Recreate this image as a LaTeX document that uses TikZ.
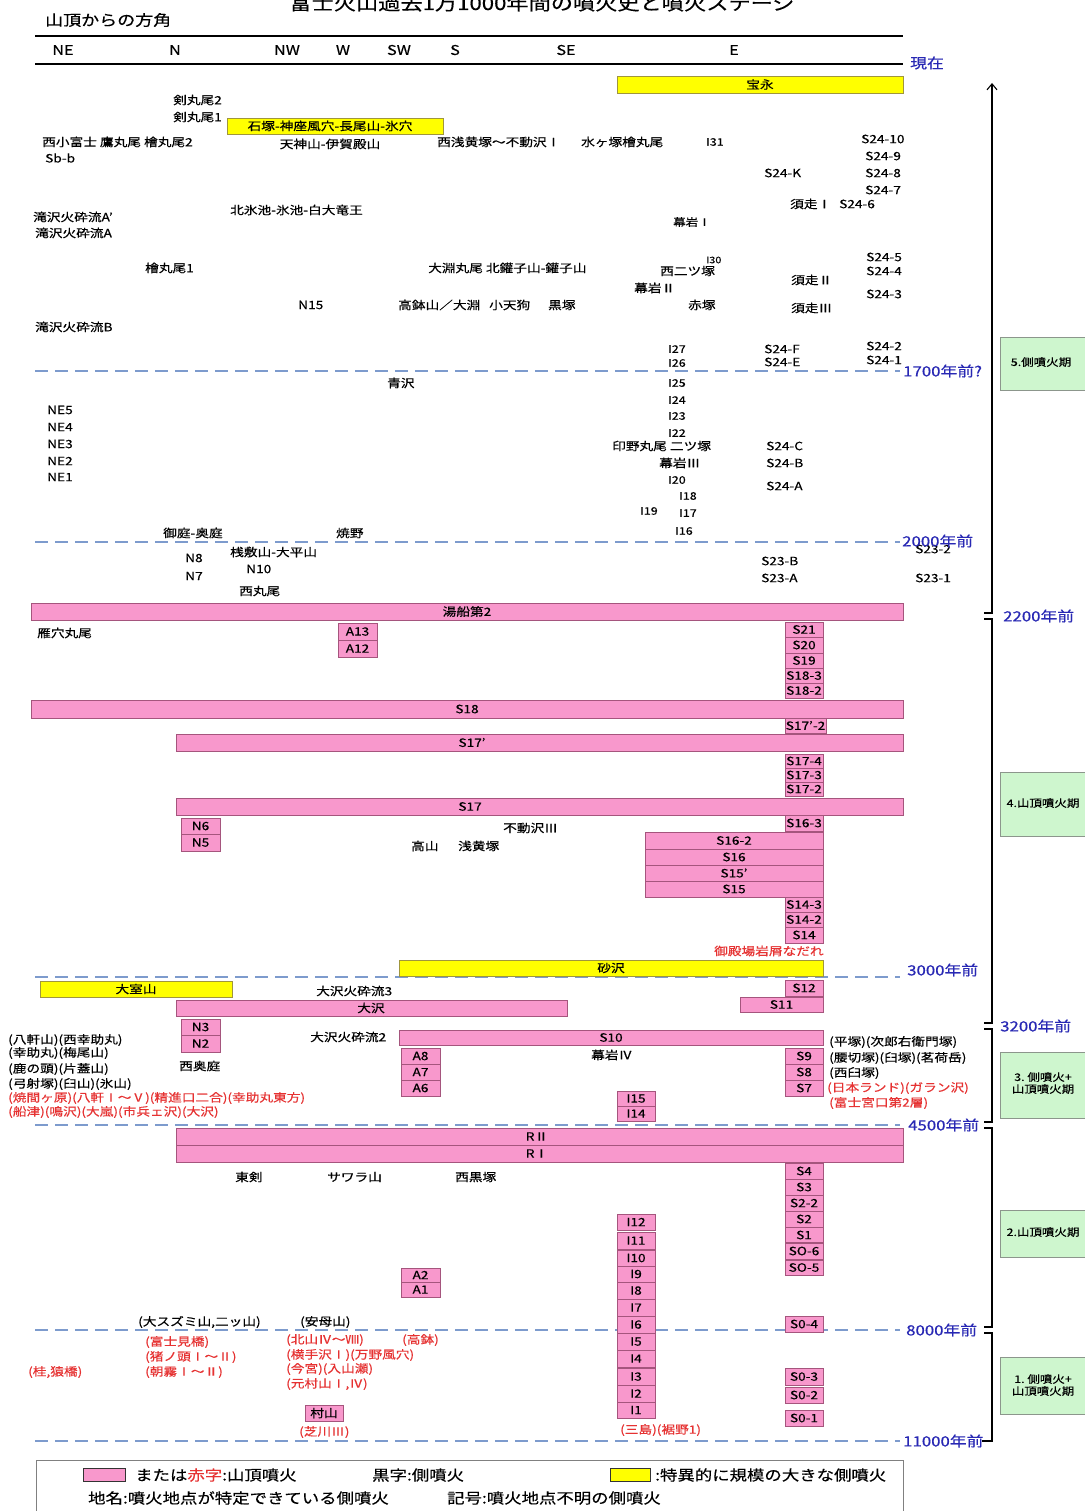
\documentclass[tikz,border=0pt]{standalone}
\usepackage{fontspec}
\setmainfont[FakeStretch=1.2,FakeBold=0.4]{Noto Sans CJK JP}
\usetikzlibrary{arrows.meta}
\definecolor{pkf}{RGB}{248,152,204}
\definecolor{pkd}{RGB}{165,85,125}
\definecolor{ywf}{RGB}{255,255,0}
\definecolor{ywd}{RGB}{160,150,60}
\definecolor{grf}{RGB}{206,246,206}
\definecolor{grd}{RGB}{140,150,140}
\definecolor{dashc}{RGB}{125,155,205}
\definecolor{yblue}{RGB}{40,40,180}
\definecolor{redc}{RGB}{230,50,50}
\newcounter{nid}
\newcommand\lbx[4][]{\stepcounter{nid}\node[lab,anchor=west,#1] (t\arabic{nid}) at (#2,#3) {#4};}
\newcommand\lbc[4][]{\stepcounter{nid}\node[lab,#1] (t\arabic{nid}) at (#2,#3) {#4};}
\newcommand\pbar[6]{\stepcounter{nid}\draw[pk] (#1,#2) rectangle (#3,#4); \node[lab] (p\arabic{nid}) at ({#5},{(#2+#4)/2}) {#6};}
\newcommand\ybar[6]{\stepcounter{nid}\draw[yw] (#1,#2) rectangle (#3,#4); \node[lab] (y\arabic{nid}) at ({#5},{(#2+#4)/2}) {#6};}
\newcommand\pcell[5]{\pbar{#1}{#2}{#3}{#4}{(#1+#3)/2}{#5}}
\newcommand\dline[1]{\draw[dl] (35,#1) -- (900,#1);}
\newcommand\yrs[3]{\stepcounter{nid}\node[yr] (yr\arabic{nid}) at (#1,#2) {#3};}
\begin{document}
\begin{tikzpicture}[x=1pt,y=-1pt,
  lab/.style={inner sep=0pt,font=\fontsize{11.4}{13}\selectfont},
  pk/.style={draw=pkd,fill=pkf,line width=0.8pt},
  yw/.style={draw=ywd,fill=ywf,line width=0.8pt},
  dl/.style={draw=dashc,dash pattern=on 13pt off 7pt,line width=1.3pt},
  yr/.style={inner sep=0pt,anchor=west,text=yblue,font=\fontsize{14}{16}\selectfont},
  rd/.style={text=redc},
  sm/.style={font=\fontsize{10.4}{12}\selectfont},
  stage/.style={draw=grd,fill=grf,line width=0.8pt},
  axis/.style={line width=1.1pt}]
\fill[white] (0,0) rectangle (1084,1511);
\useasboundingbox (0,0) rectangle (1084,1511);

% title and header
\node[inner sep=0pt,font=\fontsize{18.5}{22}\selectfont] (title) at (542,3) {富士火山過去1万1000年間の噴火史と噴火ステージ};
\node[inner sep=0pt,anchor=west,font=\fontsize{15}{18}\selectfont] (hdr) at (45,20) {山頂からの方角};
\draw[line width=1.2pt] (35,36) -- (903,36);
\draw[line width=1.2pt] (35,64) -- (903,64);
\foreach \x/\d in {63/NE,175/N,287/NW,343/W,399/SW,455/S,566/SE,734/E}
  \node[inner sep=0pt,font=\fontsize{13.5}{15}\selectfont] (dir\d) at (\x,50) {\d};
\yrs{910}{63}{現在}

% dashed time lines
\dline{371}\dline{542}\dline{977}\dline{1125}\dline{1330}\dline{1441}
\yrs{903}{371}{1700年前?}
\lbx{915}{549}{S23-2}
\yrs{902}{541}{2000年前}
\yrs{907}{970}{3000年前}
\yrs{908}{1125}{4500年前}
\yrs{906}{1330}{8000年前}
\yrs{903}{1441}{11000年前}

% axis with stage brackets
\coordinate (ax0) at (992,83);
\coordinate (b1) at (992,613);
\draw[axis,-{Straight Barb[length=6pt,width=10pt]}] (984,613) -- (b1) -- (ax0);
\draw[axis] (984,619) -- (992,619) -- (992,1023) -- (984,1023);
\draw[axis] (984,1029) -- (992,1029) -- (992,1122) -- (984,1122);
\draw[axis] (984,1128) -- (992,1128) -- (992,1327) -- (984,1327);
\draw[axis] (984,1333) -- (992,1333) -- (992,1441) -- (982,1441);
\node[yr] (y2200) at (1003,616) {2200年前};
\node[yr] (y3200) at (1000,1026) {3200年前};

% stage boxes
\draw[stage] (1000,337) rectangle (1092,390);
\node[lab,sm] (st5) at (1041,362) {5.側噴火期};
\draw[stage] (1000,772) rectangle (1092,836);
\node[lab,sm] (st4) at (1043,803) {4.山頂噴火期};
\draw[stage] (1000,1052) rectangle (1092,1118);
\node[lab,sm,align=center] (st3) at (1043,1083) {3.\ 側噴火+\\山頂噴火期};
\draw[stage] (1000,1210) rectangle (1092,1257);
\node[lab,sm] (st2) at (1043,1232) {2.山頂噴火期};
\draw[stage] (1000,1357) rectangle (1092,1414);
\node[lab,sm,align=center] (st1) at (1043,1385) {1.\ 側噴火+\\山頂噴火期};

% ---- stage 5 area
\ybar{617}{76}{903}{93}{760}{宝永}
\lbx{173}{100}{剣丸尾2}
\lbx{173}{117}{剣丸尾1}
\ybar{227}{118}{443}{134}{330}{石塚-神座風穴-長尾山-氷穴}
\lbx{42}{142}{西小富士 鷹丸尾 檜丸尾2}
\lbx{45}{158}{Sb-b}
\lbc{330}{144}{天神山-伊賀殿山}
\lbx{437}{142}{西浅黄塚～不動沢Ⅰ}
\lbx{581}{142}{水ヶ塚檜丸尾}
\lbx[sm]{706}{142}{I31}
\lbx{861}{139}{S24-10}
\lbx{865}{156}{S24-9}
\lbx{764}{173}{S24-K}
\lbx{865}{173}{S24-8}
\lbx{865}{190}{S24-7}
\lbx{790}{204}{須走Ⅰ}
\lbx{839}{204}{S24-6}
\lbx{230}{210}{北氷池-氷池-白大竜王}
\lbx[sm]{673}{222}{幕岩Ⅰ}
\lbx{33}{217}{滝沢火砕流A'}
\lbx{35}{233}{滝沢火砕流A}
\lbx{145}{268}{檜丸尾1}
\lbx{428}{268}{大淵丸尾 北鑵子山-鑵子山}
\lbx{660}{271}{西二ツ塚}
\lbx[font=\fontsize{9}{10}\selectfont]{706}{260}{I30}
\lbx{634}{288}{幕岩Ⅱ}
\lbx{791}{280}{須走Ⅱ}
\lbx{866}{257}{S24-5}
\lbx{866}{271}{S24-4}
\lbx{866}{294}{S24-3}
\lbx{298}{305}{N15}
\lbx{398}{305}{高鉢山／大淵}
\lbx{489}{305}{小天狗}
\lbx{548}{305}{黒塚}
\lbx{688}{305}{赤塚}
\lbx{791}{308}{須走Ⅲ}
\lbx{35}{327}{滝沢火砕流B}
\lbx[sm]{668}{349}{I27}
\lbx[sm]{668}{363}{I26}
\lbx{764}{349}{S24-F}
\lbx{764}{362}{S24-E}
\lbx{866}{346}{S24-2}
\lbx{866}{360}{S24-1}
\lbx{387}{383}{青沢}
\lbx[sm]{668}{383}{I25}
\lbx[sm]{668}{400}{I24}
\lbx[sm]{668}{416}{I23}
\lbx[sm]{668}{433}{I22}
\lbx{47}{410}{NE5}
\lbx{47}{427}{NE4}
\lbx{47}{444}{NE3}
\lbx{47}{461}{NE2}
\lbx{47}{477}{NE1}
\lbx{612}{446}{印野丸尾 二ツ塚}
\lbx{659}{463}{幕岩Ⅲ}
\lbx[sm]{668}{480}{I20}
\lbx[sm]{679}{496}{I18}
\lbx[sm]{640}{511}{I19}
\lbx[sm]{679}{513}{I17}
\lbx[sm]{675}{531}{I16}
\lbx{766}{446}{S24-C}
\lbx{766}{463}{S24-B}
\lbx{766}{486}{S24-A}
\lbx{163}{533}{御庭-奥庭}
\lbx{336}{533}{焼野}
\lbx{230}{552}{桟敷山-大平山}
\lbx{185}{558}{N8}
\lbx{185}{576}{N7}
\lbx{246}{569}{N10}
\lbx{239}{591}{西丸尾}
\lbx{761}{561}{S23-B}
\lbx{761}{578}{S23-A}
\lbx{915}{578}{S23-1}

% ---- stage 4 area
\pbar{31}{603}{903}{620}{467}{湯船第2}
\lbx{37}{633}{雁穴丸尾}
\pcell{338}{623}{377}{640}{A13}
\pcell{338}{640}{377}{657}{A12}
\pcell{785}{622}{823}{637}{S21}
\pcell{785}{637}{823}{653}{S20}
\pcell{785}{653}{823}{668}{S19}
\pcell{785}{668}{823}{683}{S18-3}
\pcell{785}{683}{823}{698}{S18-2}
\pbar{31}{700}{903}{718}{467}{S18}
\pcell{785}{718}{826}{733}{S17'-2}
\pbar{176}{734}{903}{751}{472}{S17'}
\pcell{785}{754}{823}{768}{S17-4}
\pcell{785}{768}{823}{782}{S17-3}
\pcell{785}{782}{823}{796}{S17-2}
\pbar{176}{798}{903}{815}{470}{S17}
\pcell{785}{815}{823}{831}{S16-3}
\pcell{181}{818}{220}{834}{N6}
\pcell{181}{834}{220}{851}{N5}
\lbx{503}{828}{不動沢Ⅲ}
\lbx{411}{846}{高山}
\lbx{458}{846}{浅黄塚}
\pbar{645}{832}{823}{849}{734}{S16-2}
\pbar{645}{849}{823}{865}{734}{S16}
\pbar{645}{865}{823}{881}{734}{S15'}
\pbar{645}{881}{823}{897}{734}{S15}
\pcell{785}{897}{823}{912}{S14-3}
\pcell{785}{912}{823}{927}{S14-2}
\pcell{785}{927}{823}{943}{S14}
\lbx[rd]{714}{951}{御殿場岩屑なだれ}
\ybar{399}{960}{823}{976}{611}{砂沢}

% ---- stage 3 area
\ybar{40}{981}{232}{997}{136}{大室山}
\lbx{316}{991}{大沢火砕流3}
\pcell{785}{980}{823}{996}{S12}
\pbar{176}{1000}{567}{1016}{371}{大沢}
\pcell{740}{997}{823}{1012}{S11}
\pcell{181}{1019}{220}{1035}{N3}
\pcell{181}{1035}{220}{1052}{N2}
\lbx{310}{1037}{大沢火砕流2}
\pbar{399}{1030}{823}{1045}{611}{S10}
\lbx{829}{1042}{(平塚)(次郎右衛門塚)}
\lbx{8}{1040}{(八軒山)(西幸助丸)}
\lbx{8}{1053}{(幸助丸)(梅尾山)}
\lbx{8}{1069}{(鹿の頭)(片蓋山)}
\lbx{8}{1084}{(弓射塚)(臼山)(氷山)}
\lbx[rd]{8}{1098}{(焼間ヶ原)(八軒Ⅰ～Ⅴ)(精進口二合)(幸助丸東方)}
\lbx[rd]{8}{1112}{(船津)(鳴沢)(大嵐)(市兵ェ沢)(大沢)}
\lbx{179}{1066}{西奥庭}
\pcell{401}{1048}{440}{1064}{A8}
\pcell{401}{1064}{440}{1080}{A7}
\pcell{401}{1080}{440}{1096}{A6}
\lbx{591}{1055}{幕岩Ⅳ}
\pcell{785}{1048}{823}{1064}{S9}
\pcell{785}{1064}{823}{1080}{S8}
\pcell{785}{1080}{823}{1096}{S7}
\lbx{829}{1058}{(腰切塚)(臼塚)(茗荷岳)}
\lbx{829}{1073}{(西臼塚)}
\lbx[rd]{827}{1088}{(日本ランド)(ガラン沢)}
\lbx[rd]{829}{1103}{(富士宮口第2層)}
\pcell{617}{1091}{655}{1106}{I15}
\pcell{617}{1106}{655}{1121}{I14}

% ---- stage 2 area
\pbar{176}{1128}{903}{1145}{537}{RⅡ}
\pbar{176}{1145}{903}{1162}{537}{RⅠ}
\lbx{235}{1177}{東剣}
\lbx{327}{1177}{サワラ山}
\lbx{455}{1177}{西黒塚}
\pcell{785}{1163}{823}{1179}{S4}
\pcell{785}{1179}{823}{1195}{S3}
\pcell{785}{1195}{823}{1211}{S2-2}
\pcell{785}{1211}{823}{1227}{S2}
\pcell{785}{1227}{823}{1243}{S1}
\pcell{785}{1243}{823}{1259}{SO-6}
\draw[pkd,line width=1.6pt] (785,1243) -- (823,1243);
\pcell{785}{1260}{823}{1275}{SO-5}
\pcell{617}{1214}{655}{1230}{I12}
\pcell{617}{1232}{655}{1249}{I11}
\pcell{617}{1250}{655}{1266}{I10}
\pcell{617}{1266}{655}{1282}{I9}
\pcell{617}{1282}{655}{1299}{I8}
\pcell{617}{1299}{655}{1316}{I7}
\pcell{617}{1316}{655}{1333}{I6}
\pcell{401}{1268}{440}{1282}{A2}
\pcell{401}{1282}{440}{1297}{A1}
\pcell{785}{1316}{823}{1332}{S0-4}
\lbx{138}{1322}{(大スズミ山,二ッ山)}
\lbx{300}{1322}{(安母山)}

% ---- stage 1 area
\lbx[rd]{145}{1342}{(富士見橋)}
\lbx[rd]{145}{1357}{(猪ノ頭Ⅰ～Ⅱ)}
\lbx[rd]{145}{1372}{(朝霧Ⅰ～Ⅱ)}
\lbx[rd]{28}{1372}{(桂,猿橋)}
\lbx[rd]{286}{1340}{(北山Ⅳ～Ⅷ)}
\lbx[rd]{402}{1340}{(高鉢)}
\lbx[rd]{286}{1355}{(横手沢Ⅰ)(万野風穴)}
\lbx[rd]{286}{1369}{(今宮)(入山瀬)}
\lbx[rd]{286}{1384}{(元村山Ⅰ,Ⅳ)}
\pcell{617}{1333}{655}{1350}{I5}
\pcell{617}{1350}{655}{1367}{I4}
\pcell{617}{1368}{655}{1385}{I3}
\pcell{617}{1385}{655}{1402}{I2}
\pcell{617}{1402}{655}{1418}{I1}
\pcell{785}{1368}{823}{1385}{S0-3}
\pcell{785}{1387}{823}{1403}{S0-2}
\pcell{785}{1410}{823}{1426}{S0-1}
\pcell{305}{1405}{343}{1421}{村山}
\lbx[rd]{299}{1432}{(芝川Ⅲ)}
\lbx[rd]{620}{1430}{(三島)(裾野1)}

% ---- legend
\draw[draw=gray,line width=1pt] (36,1460) rectangle (903,1530);
\draw[draw=black!80,fill=pkf,line width=1pt] (83,1468) rectangle (125,1481);
\node[inner sep=0pt,anchor=west,font=\fontsize{14.5}{17}\selectfont] (lg1) at (135,1475) {または\textcolor{redc}{赤字}:山頂噴火};
\node[inner sep=0pt,anchor=west,font=\fontsize{14.5}{17}\selectfont] (lg2) at (372,1475) {黒字:側噴火};
\draw[draw=black!80,fill=ywf,line width=1pt] (610,1468) rectangle (650,1481);
\node[inner sep=0pt,anchor=west,font=\fontsize{14.5}{17}\selectfont] (lg3) at (655,1475) {:特異的に規模の大きな側噴火};
\node[inner sep=0pt,anchor=west,font=\fontsize{14.5}{17}\selectfont] (lg4) at (88,1498) {地名:噴火地点が特定できている側噴火};
\node[inner sep=0pt,anchor=west,font=\fontsize{14.5}{17}\selectfont] (lg5) at (447,1498) {記号:噴火地点不明の側噴火};
\end{tikzpicture}
\end{document}
